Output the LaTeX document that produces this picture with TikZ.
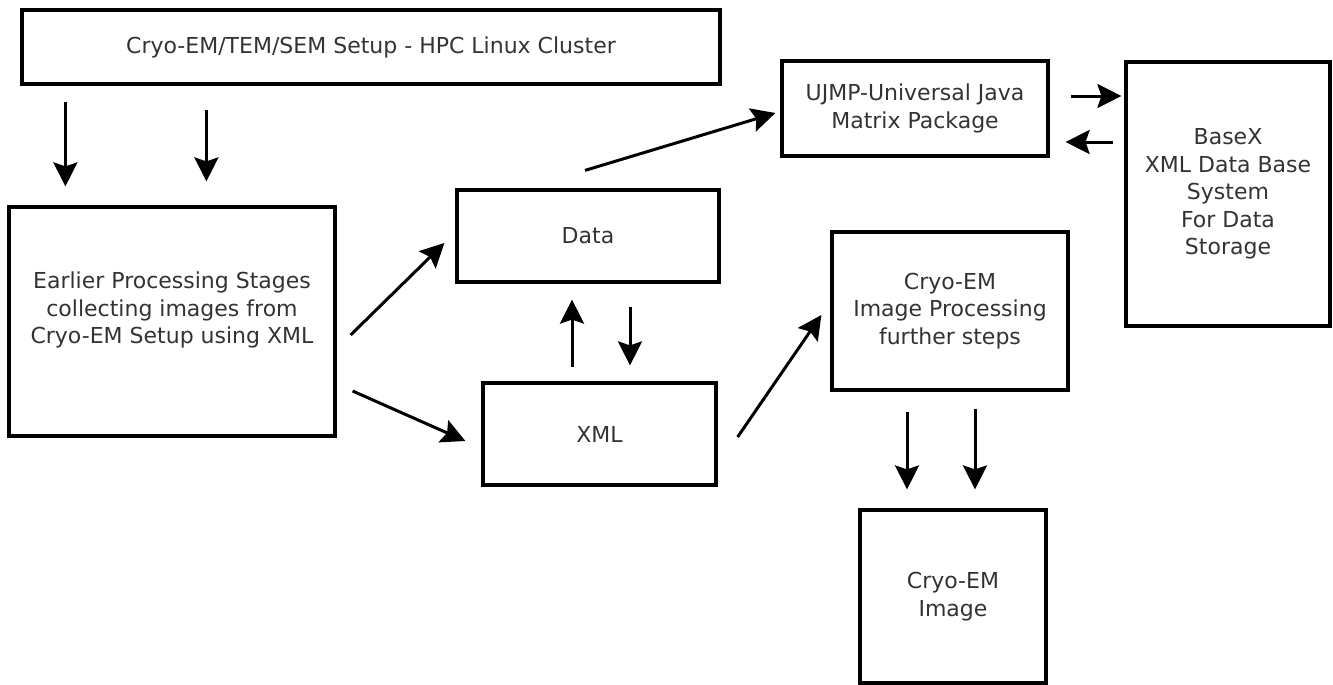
\documentclass[tikz,border=0pt]{standalone}
\usepackage{fontspec}
\setmainfont{DejaVu Sans}
\usepackage{tikz}
\usetikzlibrary{arrows.meta, positioning}

\begin{document}
\begin{tikzpicture}[
    x=1pt, y=-1pt,
    every node/.style={font=\fontsize{22}{27.5}\selectfont, text=black!80},
    box/.style={draw=black, line width=3.2pt, align=center, inner sep=0pt},
    arr/.style={-{Stealth[length=24pt, width=24pt, inset=4pt]}, line width=3pt},
]
\useasboundingbox (0,0) rectangle (1333,685);

\node[box, minimum width=698pt, minimum height=74pt]  (setup) at (371,47)    {Cryo-EM/TEM/SEM Setup - HPC Linux Cluster};
\node[box, minimum width=326pt, minimum height=229pt] (early) at (172,321.5) {Earlier Processing Stages\\collecting images from\\Cryo-EM Setup using XML\\\mbox{}};
\node[box, minimum width=262pt, minimum height=92pt]  (data)  at (588,236)   {Data};
\node[box, minimum width=233pt, minimum height=102pt] (xml)   at (599.5,434) {XML};
\node[box, minimum width=266pt, minimum height=95pt]  (ujmp)  at (915,108.5) {UJMP-Universal Java\\Matrix Package};
\node[box, minimum width=204pt, minimum height=264pt] (basex) at (1228,194)  {BaseX\\XML Data Base\\System\\For Data\\Storage};
\node[box, minimum width=236pt, minimum height=158pt] (proc)  at (950,311)   {Cryo-EM\\Image Processing\\further steps};
\node[box, minimum width=186pt, minimum height=173pt] (img)   at (953,596.5) {Cryo-EM\\Image};

\draw[arr] ([xshift=45pt, yshift=-16pt]setup.south west) -- ([xshift=58pt, yshift=19pt]early.north west);
\draw[arr] ([xshift=186pt, yshift=-24pt]setup.south west) -- ([xshift=199pt, yshift=24pt]early.north west);
\draw[arr] ([xshift=14pt, yshift=-13.5pt]early.east) -- ([xshift=-11pt, yshift=-7pt]data.west);
\draw[arr] ([xshift=16pt, yshift=-69.5pt]early.east) -- ([xshift=-16pt, yshift=-7pt]xml.west);
\draw[arr] ([xshift=-27.5pt, yshift=14pt]xml.north) -- ([xshift=-16pt, yshift=-16pt]data.south);
\draw[arr] ([xshift=42pt, yshift=-23pt]data.south) -- ([xshift=30.5pt, yshift=16pt]xml.north);
\draw[arr] ([xshift=-3pt, yshift=18pt]data.north) -- ([xshift=-5pt, yshift=-4.5pt]ujmp.west);
\draw[arr] ([xshift=21pt, yshift=12.5pt]ujmp.east) -- ([xshift=-3pt, yshift=98pt]basex.west);
\draw[arr] ([xshift=-11pt, yshift=52pt]basex.west) -- ([xshift=16pt, yshift=-33.5pt]ujmp.east);
\draw[arr] ([xshift=20pt, yshift=-3pt]xml.east) -- ([xshift=-9pt, yshift=-4pt]proc.west);
\draw[arr] ([xshift=-43pt, yshift=-20pt]proc.south) -- ([xshift=-46pt, yshift=19pt]img.north);
\draw[arr] ([xshift=25pt, yshift=-17pt]proc.south) -- ([xshift=22pt, yshift=19pt]img.north);
\end{tikzpicture}
\end{document}
